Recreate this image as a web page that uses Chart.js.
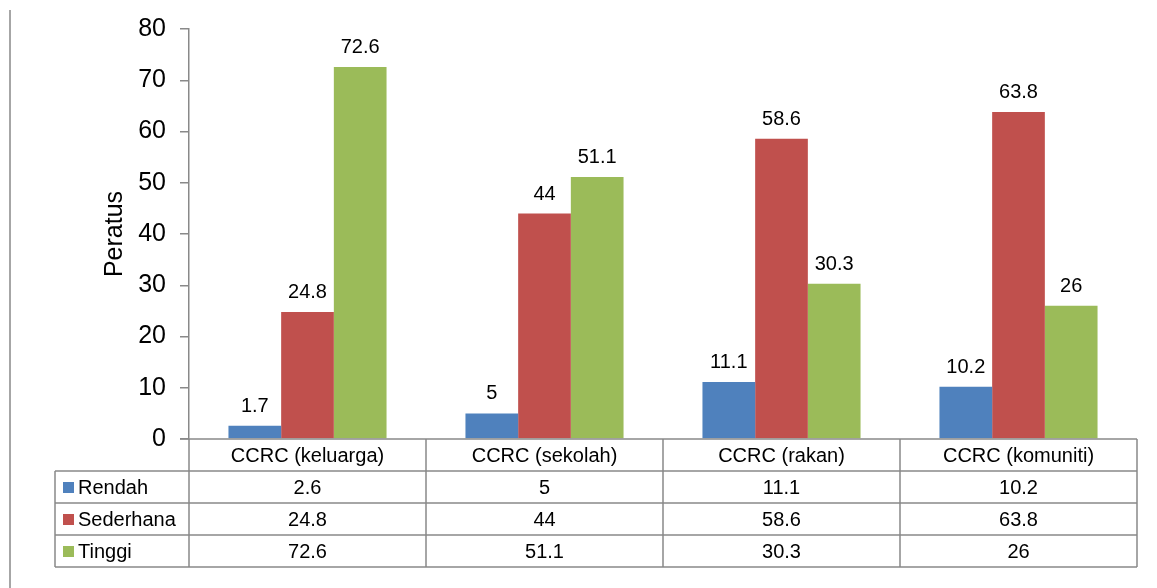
<!DOCTYPE html>
<html>
<head>
<meta charset="utf-8">
<script src="https://cdn.jsdelivr.net/npm/chart.js@4.4.0/dist/chart.umd.min.js"></script>
<style>
  body { margin: 0; background: #fff; }
</style>
</head>
<body>
<canvas id="myChart" width="1157" height="588"></canvas>
<script>
const categories = ['CCRC (keluarga)', 'CCRC (sekolah)', 'CCRC (rakan)', 'CCRC (komuniti)']
const seriesNames = ['Rendah', 'Sederhana', 'Tinggi']
const rendah = [2.6, 5, 11.1, 10.2]
const sederhana = [24.8, 44, 58.6, 63.8]
const tinggi = [72.6, 51.1, 30.3, 26]
// labels printed over the bars (the first blue one reads 1.7 in the original)
const rendahBarLabels = ['1.7', '5', '11.1', '10.2']
const sederhanaBarLabels = sederhana.map(String)
const tinggiBarLabels = tinggi.map(String)
const yMax = 80
const yStep = 10

const colors = ['#4F81BD', '#C0504D', '#9BBB59']
const lineColor = '#898989'
const font = '"Liberation Sans", Arial, sans-serif'
Chart.defaults.font.family = font
Chart.defaults.color = '#000'

const barLabels = [rendahBarLabels, sederhanaBarLabels, tinggiBarLabels]

// text above each bar
const barLabelPlugin = {
  id: 'barLabels',
  afterDatasetsDraw(chart) {
    const ctx = chart.ctx
    ctx.save()
    ctx.font = '20px ' + font
    ctx.fillStyle = '#000'
    ctx.textAlign = 'center'
    ctx.textBaseline = 'alphabetic'
    chart.data.datasets.forEach((ds, i) => {
      chart.getDatasetMeta(i).data.forEach((bar, j) => {
        ctx.fillText(barLabels[i][j], bar.x, bar.y - 14)
      })
    })
    ctx.restore()
  }
}

// data table under the plot, plus the outer frame line on the left
const tablePlugin = {
  id: 'dataTable',
  afterDraw(chart) {
    const ctx = chart.ctx
    const area = chart.chartArea
    const colW = (area.right - area.left) / categories.length
    const top = area.bottom
    const headH = 32
    const rowH = 32
    const tableLeft = 55
    const bottom = top + headH + rowH * seriesNames.length
    ctx.save()
    ctx.strokeStyle = lineColor
    ctx.lineWidth = 1.5

    // left frame line
    ctx.beginPath()
    ctx.moveTo(10, 10)
    ctx.lineTo(10, 588)
    ctx.stroke()

    ctx.beginPath()
    // axis line / top of header
    ctx.moveTo(area.left - 9, top)
    ctx.lineTo(area.right, top)
    // row lines
    for (let r = 0; r <= seriesNames.length; r++) {
      const y = top + headH + r * rowH
      ctx.moveTo(tableLeft, y)
      ctx.lineTo(area.right, y)
    }
    // column lines
    for (let c = 0; c <= categories.length; c++) {
      const x = area.left + c * colW
      ctx.moveTo(x, top)
      ctx.lineTo(x, bottom)
    }
    ctx.moveTo(tableLeft, top + headH)
    ctx.lineTo(tableLeft, bottom)
    ctx.stroke()

    ctx.font = '20px ' + font
    ctx.fillStyle = '#000'
    ctx.textBaseline = 'middle'
    ctx.textAlign = 'center'
    categories.forEach((c, i) => {
      ctx.fillText(c, area.left + (i + 0.5) * colW, top + headH / 2 + 1)
    })
    chart.data.datasets.forEach((ds, r) => {
      const yMid = top + headH + r * rowH + rowH / 2 + 1
      ds.data.forEach((v, i) => {
        ctx.fillText(String(v), area.left + (i + 0.5) * colW, yMid)
      })
      ctx.fillStyle = colors[r]
      ctx.fillRect(tableLeft + 8, yMid - 6, 11, 11)
      ctx.fillStyle = '#000'
      ctx.textAlign = 'left'
      ctx.fillText(seriesNames[r], tableLeft + 23, yMid)
      ctx.textAlign = 'center'
    })
    ctx.restore()
  }
}

const ctx = document.getElementById('myChart')
const chart = new Chart(ctx, {
  type: 'bar',
  data: {
    labels: categories,
    datasets: [rendah, sederhana, tinggi].map((d, i) => ({
      label: seriesNames[i],
      data: d,
      backgroundColor: colors[i],
      borderWidth: 0,
      categoryPercentage: 0.667,
      barPercentage: 1
    }))
  },
  options: {
    responsive: false,
    animation: false,
    devicePixelRatio: 1,
    layout: { padding: { left: 100, top: 29, right: 20, bottom: 149 } },
    plugins: {
      legend: { display: false },
      tooltip: { enabled: false }
    },
    scales: {
      x: { display: false },
      y: {
        min: 0,
        max: yMax,
        afterFit(scale) { scale.width = 89 },
        ticks: { stepSize: yStep, font: { size: 25 }, color: '#000', padding: 14 },
        grid: { drawOnChartArea: false, drawTicks: true, tickLength: 9, color: lineColor, lineWidth: 1.5 },
        border: { color: lineColor, width: 1.5 },
        title: { display: true, text: 'Peratus', font: { size: 25 }, color: '#000', padding: { top: 0, bottom: 0 } }
      }
    }
  },
  plugins: [barLabelPlugin, tablePlugin]
})
</script>
</body>
</html>
